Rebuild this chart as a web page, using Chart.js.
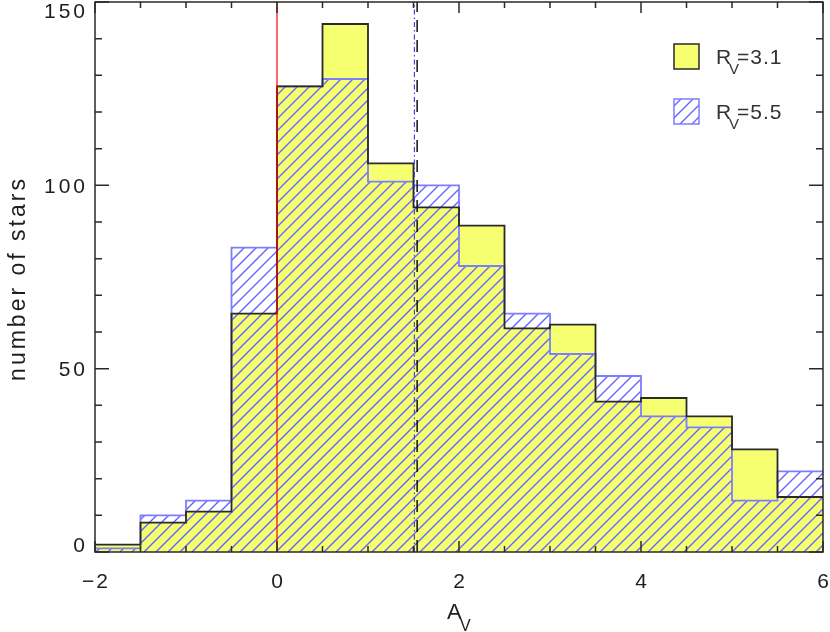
<!DOCTYPE html>
<html>
<head>
<meta charset="utf-8">
<script src="https://cdn.jsdelivr.net/npm/chart.js@4/dist/chart.umd.min.js"></script>
<style>
  html, body { margin: 0; padding: 0; background: #fff; }
  canvas { display: block; }
</style>
</head>
<body>
<canvas id="histChart" width="830" height="632"></canvas>
<script>
// ---- data ----
const binEdges = [-2, -1.5, -1, -0.5, 0, 0.5, 1, 1.5, 2, 2.5, 3, 3.5, 4, 4.5, 5, 5.5, 6];
const countsRv31 = [2, 8, 11, 65, 127, 144, 106, 94, 89, 61, 62, 41, 42, 37, 28, 15];
const countsRv55 = [1, 10, 14, 83, 127, 129, 101, 100, 78, 65, 54, 48, 37, 34, 14, 22];
const xTicks = [-2, 0, 2, 4, 6];
const yTicks = [0, 50, 100, 150];
const xMinorStep = 0.5;
const yMinorStep = 10;
const zeroLineX = 0;
const meanRv31X = 1.54;
const meanRv55X = 1.51;
const legendValues = ['3.1', '5.5'];

const FONT = '"Liberation Sans", Arial, sans-serif';
const yellow = 'rgb(246, 255, 112)';
const outlineDark = '#2a2a2a';
const blueLine = 'rgb(125, 125, 255)';
const hatchBlue = 'rgb(100, 100, 255)';
const HATCH_GAP = 12;

// diagonal "/" lines over a rect, caller sets the clip
function strokeHatch(c, x0, y0, x1, y1) {
    c.save();
    c.strokeStyle = hatchBlue;
    c.lineWidth = 1.4;
    c.beginPath();
    const kStart = Math.floor((x0 + y0) / HATCH_GAP) * HATCH_GAP;
    for (let k = kStart; k <= x1 + y1 + HATCH_GAP; k += HATCH_GAP) {
        c.moveTo(k - y1, y1);
        c.lineTo(k - y0, y0);
    }
    c.stroke();
    c.restore();
}

// histogram as step line: point at each left edge, last point repeats last bin
function stepPoints(counts) {
    return binEdges.map((e, i) => ({ x: e, y: counts[Math.min(i, counts.length - 1)] }));
}

function vline(x) {
    return [{ x: x, y: yTicks[0] }, { x: x, y: yTicks[yTicks.length - 1] }];
}

function spacedText(c, text, x, y, spacing, align) {
    const chars = [...text];
    const widths = chars.map(ch => c.measureText(ch).width);
    const total = widths.reduce((a, b) => a + b, 0) + spacing * (chars.length - 1);
    let cx = align === 'center' ? x - total / 2 : align === 'right' ? x - total : x;
    c.textAlign = 'left';
    chars.forEach((ch, i) => {
        c.fillText(ch, cx, y);
        cx += widths[i] + spacing;
    });
    return cx - spacing;
}

// hatching under the Rv=5.5 step line, clipped to its area
const hatchPlugin = {
    id: 'hatchFill',
    beforeDatasetDraw(chart, args) {
        const ds = chart.data.datasets[args.index];
        if (!ds.hatched) return;
        const pts = args.meta.data;
        const base = chart.scales.y.getPixelForValue(0);
        const c = chart.ctx;
        const area = chart.chartArea;
        c.save();
        c.beginPath();
        c.moveTo(pts[0].x, base);
        for (let i = 0; i < pts.length - 1; i++) {
            c.lineTo(pts[i].x, pts[i].y);
            c.lineTo(pts[i + 1].x, pts[i].y);
        }
        c.lineTo(pts[pts.length - 1].x, base);
        c.closePath();
        c.clip();
        strokeHatch(c, area.left, area.top, area.right, area.bottom);
        c.restore();
    }
};

const framePlugin = {
    id: 'frame',
    afterDraw(chart) {
        const c = chart.ctx;
        const xs = chart.scales.x;
        const ys = chart.scales.y;
        const { left, right, top, bottom } = chart.chartArea;
        c.save();

        // box
        c.strokeStyle = outlineDark;
        c.lineWidth = 1.5;
        c.strokeRect(left, top, right - left, bottom - top);

        // x ticks (inward, bottom + top)
        for (let v = xs.min; v <= xs.max + 1e-9; v += xMinorStep) {
            const px = xs.getPixelForValue(v);
            const len = xTicks.includes(v) ? 11 : 6;
            c.beginPath();
            c.moveTo(px, bottom); c.lineTo(px, bottom - len);
            c.moveTo(px, top); c.lineTo(px, top + len);
            c.stroke();
        }
        // y ticks (inward, left + right)
        for (let v = ys.min; v <= ys.max + 1e-9; v += yMinorStep) {
            const py = ys.getPixelForValue(v);
            const len = yTicks.includes(v) ? 14 : 7;
            c.beginPath();
            c.moveTo(left, py); c.lineTo(left + len, py);
            c.moveTo(right, py); c.lineTo(right - len, py);
            c.stroke();
        }

        // tick labels
        c.fillStyle = '#1e1e1e';
        c.font = '21px ' + FONT;
        xTicks.forEach(v => {
            const label = v < 0 ? '\u2212' + Math.abs(v) : String(v);
            spacedText(c, label, xs.getPixelForValue(v), bottom + 36, 2, 'center');
        });
        yTicks.forEach(v => {
            let cy = ys.getPixelForValue(v);
            cy = Math.min(Math.max(cy, top + 8.5), bottom - 8);
            spacedText(c, String(v), 85, cy + 7.5, 3, 'right');
        });

        // axis titles
        c.font = '23px ' + FONT;
        c.save();
        c.translate(25, 280);
        c.rotate(-Math.PI / 2);
        spacedText(c, 'number of stars', 0, 0, 3, 'center');
        c.restore();

        c.font = '22px ' + FONT;
        spacedText(c, 'A', 447, 619, 0, 'left');
        c.font = '16px ' + FONT;
        spacedText(c, 'V', 460, 631, 0, 'left');

        // legend
        const boxX = 674, boxW = 25;
        const rows = [44, 99];
        c.fillStyle = yellow;
        c.fillRect(boxX, rows[0], boxW, boxW);
        c.strokeStyle = outlineDark;
        c.lineWidth = 1.5;
        c.strokeRect(boxX, rows[0], boxW, boxW);

        c.save();
        c.beginPath();
        c.rect(boxX, rows[1], boxW, boxW);
        c.clip();
        strokeHatch(c, boxX, rows[1], boxX + boxW, rows[1] + boxW);
        c.restore();
        c.strokeStyle = blueLine;
        c.strokeRect(boxX, rows[1], boxW, boxW);

        c.fillStyle = '#333';
        legendValues.forEach((val, i) => {
            const base = rows[i] + 20;
            c.font = '21px ' + FONT;
            spacedText(c, 'R', 716, base, 0, 'left');
            c.font = '15px ' + FONT;
            spacedText(c, 'V', 729, base + 10, 0, 'left');
            c.font = '21px ' + FONT;
            spacedText(c, '=' + val, 737, base, 1, 'left');
        });

        c.restore();
    }
};

const ctx = document.getElementById('histChart').getContext('2d');

new Chart(ctx, {
    type: 'line',
    data: {
        datasets: [
            {
                label: 'mean Rv=5.5',
                data: vline(meanRv55X),
                borderColor: 'rgb(70, 70, 230)',
                borderWidth: 1.2,
                borderDash: [5, 3, 1.5, 3],
                pointRadius: 0,
                fill: false,
                order: 0
            },
            {
                label: 'mean Rv=3.1',
                data: vline(meanRv31X),
                borderColor: '#111',
                borderWidth: 1.5,
                borderDash: [12, 8],
                pointRadius: 0,
                fill: false,
                order: 1
            },
            {
                label: 'Av=0',
                data: vline(zeroLineX),
                borderColor: 'rgb(255, 0, 0)',
                borderWidth: 1.2,
                pointRadius: 0,
                fill: false,
                order: 2
            },
            {
                label: 'Rv=3.1 outline',
                data: stepPoints(countsRv31),
                stepped: true,
                borderColor: outlineDark,
                borderWidth: 1.8,
                pointRadius: 0,
                fill: false,
                order: 3
            },
            {
                label: 'Rv=5.5',
                data: stepPoints(countsRv55),
                stepped: true,
                hatched: true,
                borderColor: blueLine,
                borderWidth: 1.8,
                pointRadius: 0,
                fill: false,
                order: 4
            },
            {
                label: 'Rv=3.1',
                data: stepPoints(countsRv31),
                stepped: true,
                borderColor: yellow,
                borderWidth: 0,
                backgroundColor: yellow,
                pointRadius: 0,
                fill: 'origin',
                order: 5
            }
        ]
    },
    options: {
        responsive: false,
        animation: false,
        events: [],
        layout: { padding: { left: 0, top: 2, right: 7, bottom: 0 } },
        plugins: {
            legend: { display: false },
            tooltip: { enabled: false }
        },
        scales: {
            x: {
                type: 'linear',
                min: -2,
                max: 6,
                grid: { display: false },
                border: { display: false },
                ticks: { display: false },
                afterFit: s => { s.height = 80; }
            },
            y: {
                type: 'linear',
                min: 0,
                max: 150,
                grid: { display: false },
                border: { display: false },
                ticks: { display: false },
                afterFit: s => { s.width = 95; }
            }
        }
    },
    plugins: [hatchPlugin, framePlugin]
});
</script>
</body>
</html>
